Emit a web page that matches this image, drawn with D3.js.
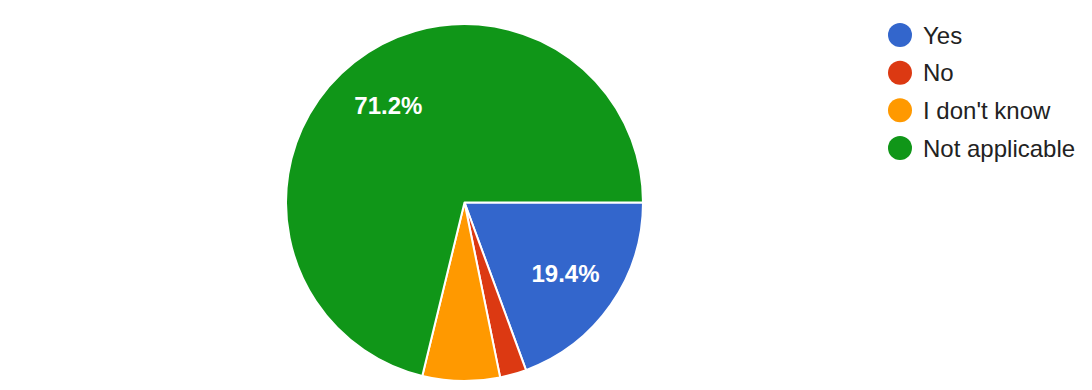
<!DOCTYPE html>
<html>
<head>
<meta charset="utf-8">
<script src="https://cdn.jsdelivr.net/npm/d3@7"></script>
<style>
  body { margin: 0; background: #fff; }
  svg { display: block; font-family: Arial, "Liberation Sans", sans-serif; }
</style>
</head>
<body>
<script>
// answers, in order round the pie starting at 3 o'clock
const categories = ['Yes', 'No', "I don't know", 'Not applicable']
const shares = [19.4, 2.4, 7.0, 71.2]
const colors = ['#3366cc', '#dc3912', '#ff9900', '#109618']
const labelled = ['19.4%', null, null, '71.2%']

const width = 1092,
    height = 390
const cx = 464.5, cy = 202.5, radius = 178.5

let svg = d3.select('body').append('svg')
    .attr('width', width)
    .attr('height', height)

let data = categories.map((c, i) => ({name: c, value: shares[i], color: colors[i], label: labelled[i]}))

let pie = d3.pie()
    .value(d => d.value)
    .sort(null)
    .startAngle(Math.PI / 2)
    .endAngle(Math.PI / 2 + 2 * Math.PI)

let arc = d3.arc().innerRadius(0).outerRadius(radius)
let labelArc = d3.arc().innerRadius(radius * 0.69).outerRadius(radius * 0.69)

let g = svg.append('g').attr('transform', `translate(${cx},${cy})`)

g.selectAll('.slice')
    .data(pie(data)).enter()
    .append('path')
    .attr('class', 'slice')
    .attr('d', arc)
    .attr('fill', d => d.data.color)
    .attr('stroke', '#fff')
    .attr('stroke-width', 2)
    .attr('stroke-linejoin', 'round')

g.selectAll('.pct')
    .data(pie(data).filter(d => d.data.label)).enter()
    .append('text')
    .attr('class', 'pct')
    .attr('transform', d => `translate(${labelArc.centroid(d)})`)
    .attr('text-anchor', 'middle')
    .attr('dy', '0.36em')
    .attr('fill', '#fff')
    .style('font-size', '24px')
    .style('font-weight', 'bold')
    .text(d => d.data.label)

// legend
let legendY = d3.scalePoint()
    .domain(categories)
    .range([35, 148])

let legend = svg.selectAll('.legend')
    .data(data).enter()
    .append('g')
    .attr('class', 'legend')
    .attr('transform', d => `translate(900,${legendY(d.name)})`)

legend.append('circle')
    .attr('r', 12)
    .attr('fill', d => d.color)

legend.append('text')
    .attr('x', 23)
    .attr('dy', '0.36em')
    .attr('fill', '#222')
    .style('font-size', '24px')
    .text(d => d.name)
</script>
</body>
</html>
